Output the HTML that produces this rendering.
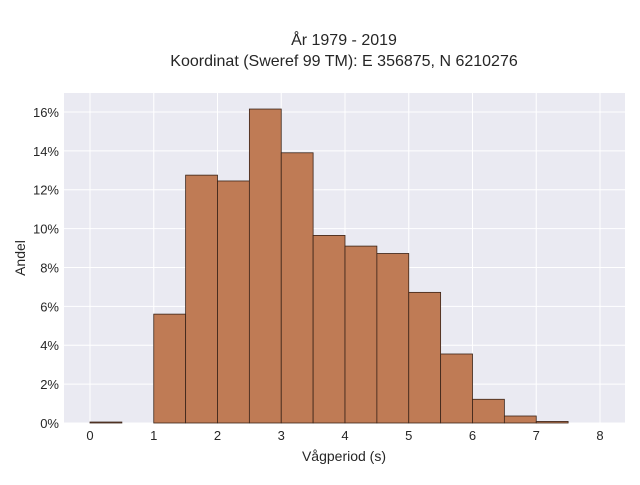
<!DOCTYPE html>
<html><head><meta charset="utf-8"><style>
body{margin:0;background:#fff;}
svg{font-family:"Liberation Sans",sans-serif;}
</style></head><body>
<svg id="chart" width="640" height="480">
<rect x="0" y="0" width="640" height="480" fill="#fff"/>
<text x="344" y="45" font-size="16" text-anchor="middle" fill="#262626">År 1979 - 2019</text>
<text x="344" y="66" font-size="16" text-anchor="middle" fill="#262626">Koordinat (Sweref 99 TM): E 356875, N 6210276</text>
<rect x="64" y="93" width="561" height="330" fill="#eaeaf2"/>
<g id="grid"></g><g id="bars"></g><g id="ticks"></g>
<text x="344" y="461" font-size="14" text-anchor="middle" fill="#262626">Vågperiod (s)</text>
<text transform="translate(25,258) rotate(-90)" font-size="14" text-anchor="middle" fill="#262626">Andel</text>
</svg>
<script>
const binStarts=[0,0.5,1,1.5,2,2.5,3,3.5,4,4.5,5,5.5,6,6.5,7];
const shares=[0.05,0,5.6,12.75,12.45,16.15,13.9,9.65,9.1,8.72,6.72,3.55,1.22,0.36,0.08];
const xTicks=[0,1,2,3,4,5,6,7,8];
const yTicks=[0,2,4,6,8,10,12,14,16];
const binWidth=0.5;
const X=v=>90+v*63.75, Y=v=>423-v*19.44;
const ns="http://www.w3.org/2000/svg";
const mk=(t,a,p)=>{const e=document.createElementNS(ns,t);for(const k in a)e.setAttribute(k,a[k]);p.appendChild(e);return e;};
const g=document.getElementById('grid'),b=document.getElementById('bars'),tk=document.getElementById('ticks');
xTicks.forEach(v=>{
 const l=mk('line',{x1:X(v),x2:X(v),y1:93,y2:423,stroke:'#fff','stroke-width':1},g);
 
 
 const t=mk('text',{x:X(v),y:440,'font-size':13,'text-anchor':'middle',fill:'#262626'},tk);
 t.textContent=v;
 
 
});
yTicks.forEach(v=>{
 const l=mk('line',{x1:64,x2:625,y1:Y(v),y2:Y(v),stroke:'#fff','stroke-width':1},g);
 
 
 const t=mk('text',{x:59,y:Y(v)+5,'font-size':13,'text-anchor':'end',fill:'#262626'},tk);
 t.textContent=v+'%';
 
 
});
binStarts.forEach((s,i)=>{
 if(shares[i]<=0)return;
 const r=mk('rect',{x:X(s),y:Y(shares[i]),width:X(s+binWidth)-X(s),height:Y(0)-Y(shares[i]),fill:'#bf7b55',stroke:'#3a2418','stroke-width':0.8},b);
 
 
});
</script>
</body></html>
